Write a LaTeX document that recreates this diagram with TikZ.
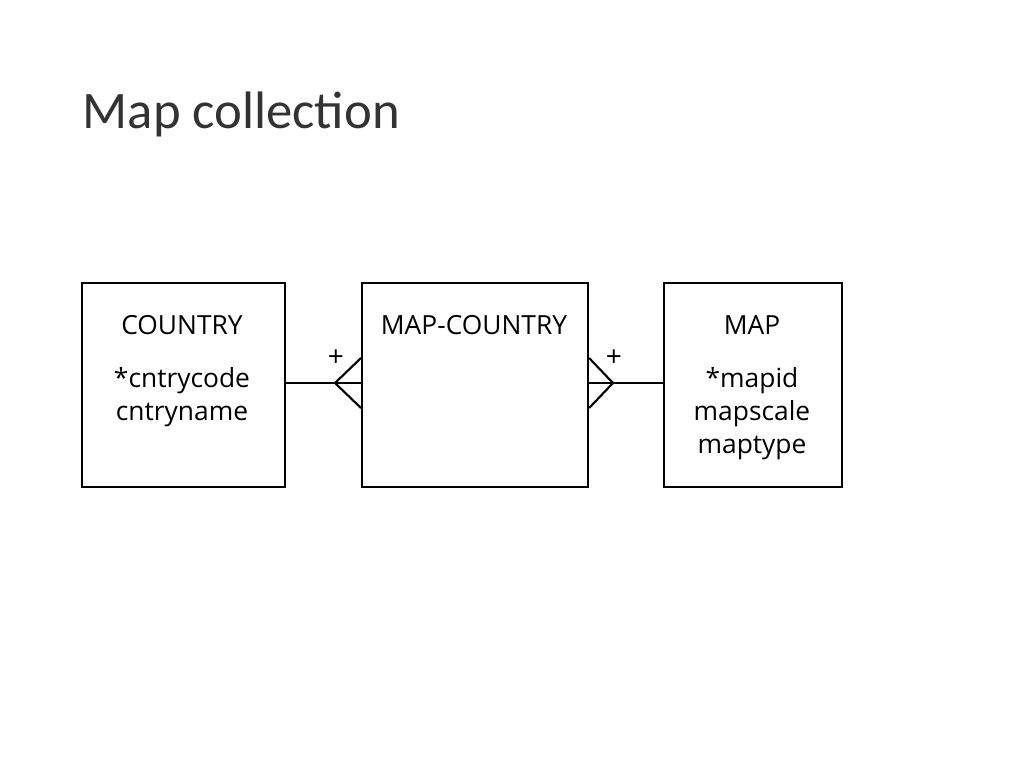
\documentclass[tikz,border=0pt]{standalone}
\usepackage{fontspec}
\setmainfont{Carlito}
\newfontfamily\boxfont{Open Sans}
\usetikzlibrary{positioning}
\tikzset{every picture/.style={line width=0.8pt}}
\begin{document}
\begin{tikzpicture}[x=0.02cm, y=-0.02cm,
    entity/.style={draw, line width=1.2pt, rectangle, anchor=north west, inner sep=0pt},
    attrs/.style={align=center, font=\boxfont\fontsize{15}{19}\selectfont, anchor=north},
    link/.style={line width=1.2pt}]
    \useasboundingbox (0,0) rectangle (1024,768);
    % Title
    \node[anchor=base west, inner sep=0pt, font=\fontsize{30}{36}\selectfont\addfontfeature{Color=333333}] (title) at (82,128) {Map collection};
    % Entities
    \node[entity, minimum width=203*0.02cm, minimum height=204*0.02cm] (country) at (81,282) {};
    \node[entity, minimum width=226*0.02cm, minimum height=204*0.02cm] (mapcountry) at (361,282) {};
    \node[entity, minimum width=178*0.02cm, minimum height=204*0.02cm] (map) at (663,282) {};
    % Attributes
    \node[attrs] (countrytxt) at (182,309) {COUNTRY\\[11pt]*cntrycode\\cntryname};
    \node[attrs] (mapcountrytxt) at (474,309) {MAP-COUNTRY};
    \node[attrs] (maptxt) at (752,309) {MAP\\[11pt]*mapid\\mapscale\\maptype};
    % Connections
    \coordinate (lfoot) at (335,383);
    \coordinate (rfoot) at (613,383);
    \draw[link] (country.east |- lfoot) -- (mapcountry.west |- lfoot);
    \draw[link] (map.west |- rfoot) -- (mapcountry.east |- rfoot);
    \draw[link] (mapcountry.west |- 0,358) -- (lfoot) -- (mapcountry.west |- 0,408);
    \draw[link] (mapcountry.east |- 0,358) -- (rfoot) -- (mapcountry.east |- 0,408);
    \node[font=\boxfont\fontsize{16}{16}\selectfont] (lplus) at (336,358) {+};
    \node[font=\boxfont\fontsize{16}{16}\selectfont] (rplus) at (614,358) {+};
\end{tikzpicture}
\end{document}
